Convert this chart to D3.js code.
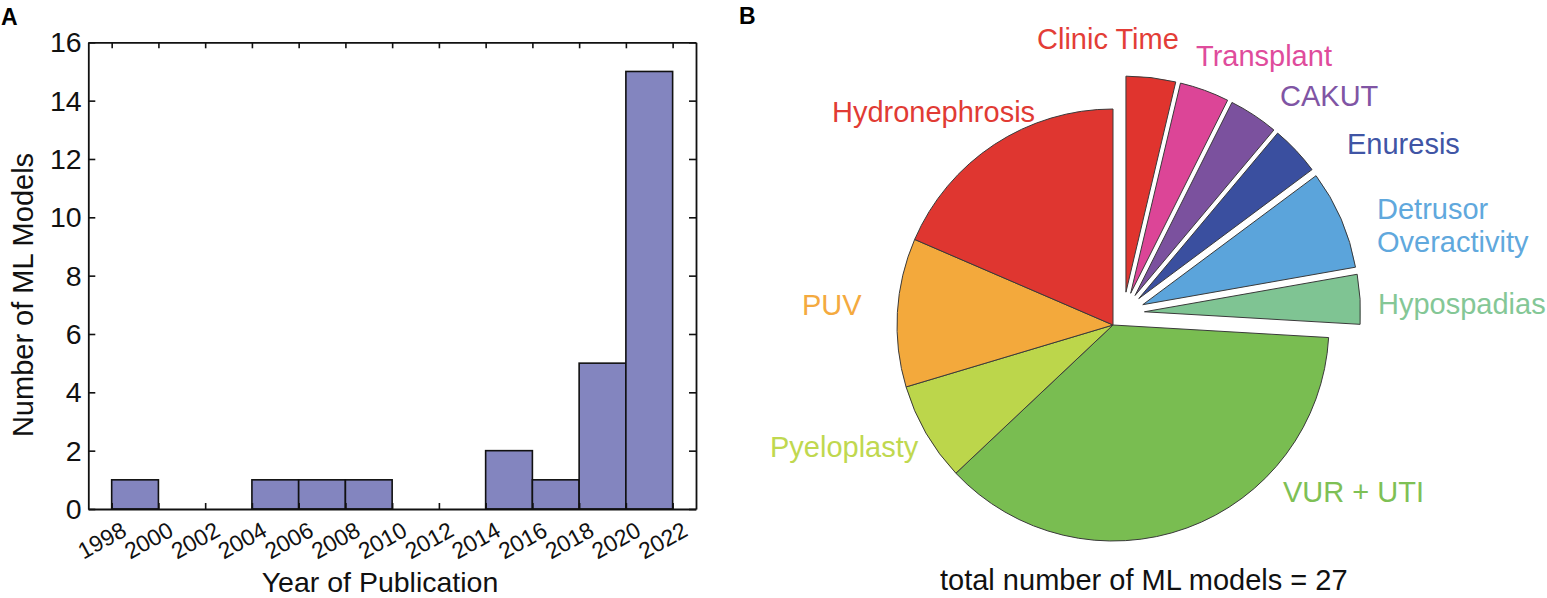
<!DOCTYPE html>
<html><head><meta charset="utf-8">
<script src="https://cdn.jsdelivr.net/npm/d3@7"></script>
<style>
body{margin:0;background:#fff;}
svg{display:block;font-family:"Liberation Sans",Arial,Helvetica,sans-serif;}
</style>
</head><body>
<svg id="chart" width="1547" height="598"></svg>
<script>
// ---------- Panel A data ----------
const binStarts = [1998, 2000, 2002, 2004, 2006, 2008, 2010, 2012, 2014, 2016, 2018, 2020];
const binCounts = [1, 0, 0, 1, 1, 1, 0, 0, 2, 1, 5, 15];
const binWidthYears = 2;
const xTickYears = [1998, 2000, 2002, 2004, 2006, 2008, 2010, 2012, 2014, 2016, 2018, 2020, 2022];
const yTickValues = [0, 2, 4, 6, 8, 10, 12, 14, 16];

// ---------- Panel B data ----------
const categories = ["Clinic Time", "Transplant", "CAKUT", "Enuresis", "Detrusor Overactivity",
                    "Hypospadias", "VUR + UTI", "Pyeloplasty", "PUV", "Hydronephrosis"];
const modelCounts = [1, 1, 1, 1, 2, 1, 10, 2, 3, 5];
const explodedSlices = [true, true, true, true, true, true, false, false, false, false];
const totalModels = 27;

// ---------- Styles / layout ----------
const sliceColors = ["#e0342e", "#dc4597", "#7b519e", "#3a4f9f", "#5ba4db",
                     "#7fc493", "#79bd51", "#bcd64b", "#f3a93c", "#df3630"];
const labelColors = ["#e33d37", "#df4c9c", "#8055a4", "#4055a5", "#60a8dd",
                     "#84c796", "#7ec055", "#c0d84f", "#f4aa3f", "#e13b34"];
// label anchor (left x, baseline y) relative to pie centre
const labelOffsets = [[-76, -276], [83, -259], [167, -219], [234, -171], [264, -106],
                      [265, -11], [170, 177], [-343, 132], [-311, -10], [-281, -203]];

const svg = d3.select("#chart");
const font = 29;

// ================= Panel A =================
const x = d3.scaleLinear().domain([1997, 2023]).range([88.3, 696]);
const y = d3.scaleLinear().domain([0, 16]).range([509, 42.3]);
const gA = svg.append("g");

const bins = binStarts.map((s, i) => ({start: s, end: s + binWidthYears, count: binCounts[i]}));
gA.selectAll("rect.bar").data(bins.filter(d => d.count > 0)).join("rect")
  .attr("class", "bar")
  .attr("x", d => x(d.start)).attr("width", d => x(d.end) - x(d.start))
  .attr("y", d => y(d.count)).attr("height", d => y(0) - y(d.count))
  .attr("fill", "#8385bf").attr("stroke", "#111").attr("stroke-width", 1.6);

function styleAxis(g){
  g.selectAll("path.domain").attr("stroke", "#111").attr("stroke-width", 1.8);
  g.selectAll(".tick line").attr("stroke", "#111").attr("stroke-width", 1.6);
}
const axB = gA.append("g").attr("transform", `translate(0,${y(0)})`)
  .call(d3.axisBottom(x).tickValues(xTickYears).tickSize(-6).tickSizeOuter(0).tickFormat(d3.format("d")));
axB.selectAll(".tick text")
  .attr("y", 0).attr("dy", null)
  .attr("transform", "translate(16,26) rotate(-29)")
  .style("text-anchor", "end").style("font-size", "23px").attr("fill", "#111");
styleAxis(axB);

const axT = gA.append("g").attr("transform", `translate(0,${y(16)})`)
  .call(d3.axisTop(x).tickValues(xTickYears).tickSize(-6).tickSizeOuter(0).tickFormat(""));
styleAxis(axT);

const axL = gA.append("g").attr("transform", `translate(${x(1997)},0)`)
  .call(d3.axisLeft(y).tickValues(yTickValues).tickSize(-7).tickSizeOuter(0).tickFormat(d3.format("d")));
axL.selectAll(".tick text").attr("x", -6.6).attr("dy", "0.33em")
  .style("font-size", "28.5px").attr("fill", "#111");
styleAxis(axL);

const axR = gA.append("g").attr("transform", `translate(${x(2023)},0)`)
  .call(d3.axisRight(y).tickValues(yTickValues).tickSize(-7).tickSizeOuter(0).tickFormat(""));
styleAxis(axR);

gA.append("text").attr("x", 261.7).attr("y", 592).attr("font-size", 28.5)
  .attr("fill", "#111").text("Year of Publication");
gA.append("text").attr("transform", "translate(33.3,295) rotate(-90)")
  .attr("text-anchor", "middle").attr("font-size", font).attr("fill", "#111")
  .text("Number of ML Models");
gA.append("text").attr("x", 1).attr("y", 25).attr("font-size", 23).attr("font-weight", "bold")
  .attr("fill", "#000").text("A");

// ================= Panel B =================
const cx = 1113, cy = 325, R = 216;
const explodeDist = 21, groupShift = [10.5, -12];
const pieData = categories.map((c, i) => ({name: c, count: modelCounts[i], exploded: explodedSlices[i],
  color: sliceColors[i], labelColor: labelColors[i], label: labelOffsets[i]}));
const pie = d3.pie().sort(null).value(d => d.count).startAngle(0).endAngle(2 * Math.PI);
const arc = d3.arc().innerRadius(0).outerRadius(R);
const arcs = pie(pieData);

const gB = svg.append("g");
gB.selectAll("path.slice").data(arcs).join("path")
  .attr("class", "slice")
  .attr("transform", d => {
    let ox = 0, oy = 0;
    if (d.data.exploded) {
      const mid = (d.startAngle + d.endAngle) / 2;
      ox = explodeDist * Math.sin(mid) + groupShift[0];
      oy = -explodeDist * Math.cos(mid) + groupShift[1];
    }
    return `translate(${cx + ox},${cy + oy})`;
  })
  .attr("d", arc)
  .attr("fill", d => d.data.color)
  .attr("stroke", "#3a3a3a").attr("stroke-width", 1).attr("stroke-linejoin", "round");

gB.selectAll("text.lbl").data(arcs).join("text")
  .attr("class", "lbl")
  .attr("x", d => cx + d.data.label[0]).attr("y", d => cy + d.data.label[1])
  .attr("font-size", font).attr("fill", d => d.data.labelColor)
  .each(function(d){
    const t = d3.select(this);
    if (d.data.name === "Detrusor Overactivity") {
      t.append("tspan").attr("x", cx + d.data.label[0]).text("Detrusor");
      t.append("tspan").attr("x", cx + d.data.label[0]).attr("dy", 32.7).text("Overactivity");
    } else t.text(d.data.name);
  });

gB.append("text").attr("x", 940).attr("y", 590).attr("font-size", font).attr("fill", "#111")
  .text(`total number of ML models = ${d3.sum(modelCounts) || totalModels}`);
gB.append("text").attr("x", 739).attr("y", 23.5).attr("font-size", 23).attr("font-weight", "bold")
  .attr("fill", "#000").text("B");
</script>
</body></html>
